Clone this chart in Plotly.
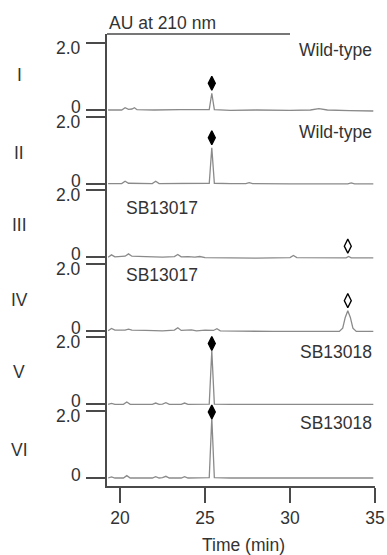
import plotly.graph_objects as go

# ---------------- data ----------------
panel_names = ["I", "II", "III", "IV", "V", "VI"]
sample_labels = ["Wild-type", "Wild-type", "SB13017", "SB13017", "SB13018", "SB13018"]

t_I = [19.3, 20.1, 20.3, 20.5, 20.7, 20.85, 21.0, 22.0, 23.5, 24.8, 25.25, 25.4, 25.55, 26.5, 28.0, 30.0, 31.2, 31.7, 32.2, 33.5, 34.9]
v_I = [0.0, 0.0, 0.07, 0.02, 0.03, 0.07, 0.01, 0.0, 0.01, 0.0, 0.01, 0.5, 0.01, -0.01, 0.0, -0.01, 0.0, 0.04, 0.0, -0.02, -0.03]

t_II = [19.3, 20.1, 20.3, 20.5, 21.9, 22.1, 22.3, 24.8, 25.25, 25.4, 25.55, 26.5, 27.4, 27.6, 27.8, 30.0, 33.4, 33.6, 33.8, 34.9]
v_II = [0.0, 0.0, 0.07, 0.01, 0.0, 0.07, 0.0, 0.0, 0.01, 1.07, 0.01, 0.0, 0.0, 0.03, 0.0, -0.01, -0.01, 0.02, -0.01, -0.01]

t_III = [19.3, 19.5, 19.7, 20.0, 20.3, 20.5, 20.7, 21.5, 22.5, 23.2, 23.4, 23.6, 24.0, 24.4, 24.7, 25.0, 26.0, 28.0, 30.0, 30.2, 30.4, 32.0, 33.3, 33.45, 33.6, 34.9]
v_III = [0.0, 0.07, 0.01, 0.02, 0.03, 0.1, 0.03, 0.02, 0.0, 0.02, 0.08, 0.01, 0.02, 0.0, 0.02, -0.01, -0.02, -0.03, -0.01, 0.05, -0.01, -0.02, -0.02, 0.02, -0.02, -0.02]

t_IV = [19.3, 19.5, 19.7, 20.3, 20.5, 20.7, 21.5, 22.5, 23.2, 23.4, 23.6, 24.2, 24.5, 25.0, 25.5, 25.7, 25.9, 27.0, 29.0, 31.0, 32.9, 33.1, 33.25, 33.4, 33.55, 33.7, 33.9, 34.9]
v_IV = [0.0, 0.07, 0.02, 0.02, 0.05, 0.02, 0.01, 0.0, 0.02, 0.09, 0.01, 0.03, 0.0, 0.02, 0.01, 0.06, 0.0, -0.01, -0.02, -0.02, -0.02, 0.08, 0.4, 0.6, 0.4, 0.08, -0.02, -0.02]

t_V = [19.3, 19.5, 19.7, 20.2, 20.4, 20.6, 21.9, 22.1, 22.3, 22.5, 22.7, 22.9, 23.6, 23.8, 24.0, 24.8, 25.25, 25.4, 25.55, 26.5, 29.8, 30.0, 30.2, 34.9]
v_V = [0.0, 0.03, 0.0, 0.0, 0.07, 0.0, 0.0, 0.04, 0.0, 0.01, 0.05, 0.0, 0.0, 0.04, 0.0, 0.0, 0.01, 1.6, 0.01, 0.0, 0.0, 0.02, 0.0, 0.0]

t_VI = [19.3, 19.5, 19.7, 20.2, 20.4, 20.6, 21.9, 22.1, 22.3, 22.5, 22.7, 22.9, 23.6, 23.8, 24.0, 24.8, 25.25, 25.4, 25.55, 26.5, 29.8, 30.0, 30.2, 34.9]
v_VI = [0.0, 0.03, 0.0, 0.0, 0.07, 0.0, 0.0, 0.04, 0.0, 0.01, 0.05, 0.0, 0.0, 0.04, 0.0, 0.0, 0.01, 1.8, 0.01, 0.0, 0.0, 0.02, 0.0, 0.0]

marker_t = [25.4, 25.4, 33.4, 33.4, 25.4, 25.4]
marker_y = [0.8, 1.37, 0.33, 0.9, 1.82, 1.97]
marker_filled = [True, True, False, False, True, True]

y_tick_vals = [0, 2.0]
y_tick_text = ["0", "2.0"]
x_tick_vals = [20, 25, 30, 35]
x_tick_text = ["20", "25", "30", "35"]
x_title = "Time (min)"
y_title = "AU at 210 nm"
au_line_end = 30

traces_t = [t_I, t_II, t_III, t_IV, t_V, t_VI]
traces_v = [v_I, v_II, v_III, v_IV, v_V, v_VI]

# ---------------- layout geometry (pixels) ----------------
W, H = 387, 555
PLOT_L, PLOT_R, PLOT_T, PLOT_B = 107, 375, 34, 486
ML, MR, MT, MB = PLOT_L, W - PLOT_R, PLOT_T, H - PLOT_B
plot_h = PLOT_B - PLOT_T
plot_w = PLOT_R - PLOT_L
x_range = [19.235, 35]
zero_px = [110 + 73.6 * k for k in range(6)]
px_per_unit = 33.5

def py(p):
    return (PLOT_B - p) / plot_h

def px(p):
    return (p - PLOT_L) / plot_w

FONT = "Liberation Sans, Arial, sans-serif"
TXT = "#333333"
AX = "#4a4a4a"
LINE = "#8a8a8a"
FS = 17.5

fig = go.Figure()
layout = dict(
    template="none",
    width=W, height=H,
    margin=dict(l=ML, r=MR, t=MT, b=MB),
    plot_bgcolor="white", paper_bgcolor="white",
    showlegend=False,
    font=dict(family=FONT, size=FS, color=TXT),
)
annotations = []

for k in range(6):
    top = PLOT_T if k == 0 else zero_px[k - 1] + 3.3
    bot = PLOT_B if k == 5 else zero_px[k] + 3.3
    ymax = (zero_px[k] - top) / px_per_unit
    ymin = -(bot - zero_px[k]) / px_per_unit
    yname = "y" if k == 0 else f"y{k+1}"
    axname = "yaxis" if k == 0 else f"yaxis{k+1}"
    layout[axname] = dict(
        domain=[py(bot), py(top)], range=[ymin, ymax],
        showline=True, linecolor=AX, linewidth=1.5,
        tickvals=y_tick_vals, ticks="outside", ticklen=19, tickwidth=1.5,
        tickcolor=AX, showticklabels=False, showgrid=False, zeroline=False,
        anchor="x", fixedrange=True, automargin=False,
    )
    fig.add_trace(go.Scatter(
        x=traces_t[k], y=traces_v[k], mode="lines", xaxis="x", yaxis=yname,
        line=dict(color=LINE, width=1.3), hoverinfo="skip",
    ))
    fig.add_trace(go.Scatter(
        x=[marker_t[k]], y=[marker_y[k]], mode="markers", xaxis="x", yaxis=yname,
        cliponaxis=False,
        marker=dict(
            symbol="diamond-tall" if marker_filled[k] else "diamond-tall-open",
            size=10, color="black", line=dict(color="black", width=1.3),
        ),
    ))
    annotations.append(dict(text=y_tick_text[1], x=px(83), xref="paper", y=y_tick_vals[1],
                            yref=yname, xanchor="right", yanchor="middle", yshift=-5,
                            showarrow=False, font=dict(size=FS, color=TXT)))
    annotations.append(dict(text=y_tick_text[0], x=px(83), xref="paper", y=y_tick_vals[0],
                            yref=yname, xanchor="right", yanchor="middle", yshift=3,
                            showarrow=False, font=dict(size=FS, color=TXT)))
    mid_px = [75, 153, 225, 300, 372, 450][k]
    annotations.append(dict(text=panel_names[k], x=px(19), xref="paper", y=py(mid_px),
                            yref="paper", xanchor="center", yanchor="middle",
                            showarrow=False, font=dict(size=FS, color=TXT)))
    lab_px = [50, 132, 208, 275, 352, 423][k]
    if sample_labels[k].startswith("SB13017"):
        annotations.append(dict(text=sample_labels[k], x=px(124), xref="paper", y=py(lab_px),
                                yref="paper", xanchor="left", yanchor="middle",
                                showarrow=False, font=dict(size=FS, color=TXT)))
    else:
        annotations.append(dict(text=sample_labels[k], x=px(374), xref="paper", y=py(lab_px),
                                yref="paper", xanchor="right", yanchor="middle",
                                showarrow=False, font=dict(size=FS, color=TXT)))

layout["xaxis"] = dict(
    range=x_range, anchor="y6", showline=True, linecolor=AX, linewidth=1.5,
    tickvals=x_tick_vals, ticktext=x_tick_text, ticks="outside", ticklen=15,
    tickwidth=1.5, tickcolor=AX, showgrid=False, zeroline=False,
    tickfont=dict(size=FS, color=TXT), fixedrange=True, automargin=False,
)
annotations.append(dict(text=x_title, x=px(243), xref="paper", y=py(545), yref="paper",
                        xanchor="center", yanchor="middle", showarrow=False,
                        font=dict(size=FS, color=TXT)))
annotations.append(dict(text=y_title, x=0, xref="paper", y=py(23), yref="paper",
                        xanchor="left", yanchor="middle", showarrow=False,
                        font=dict(size=FS, color=TXT)))
layout["annotations"] = annotations
layout["shapes"] = [dict(type="line", xref="x", yref="paper", x0=x_range[0], x1=au_line_end,
                         y0=1, y1=1, line=dict(color=AX, width=1.5))]
fig.update_layout(**layout)
fig.write_html(
    "out.html",
    config={"displayModeBar": False, "responsive": False},
    post_script="document.body.style.margin='0';document.body.style.overflow='hidden';",
)
